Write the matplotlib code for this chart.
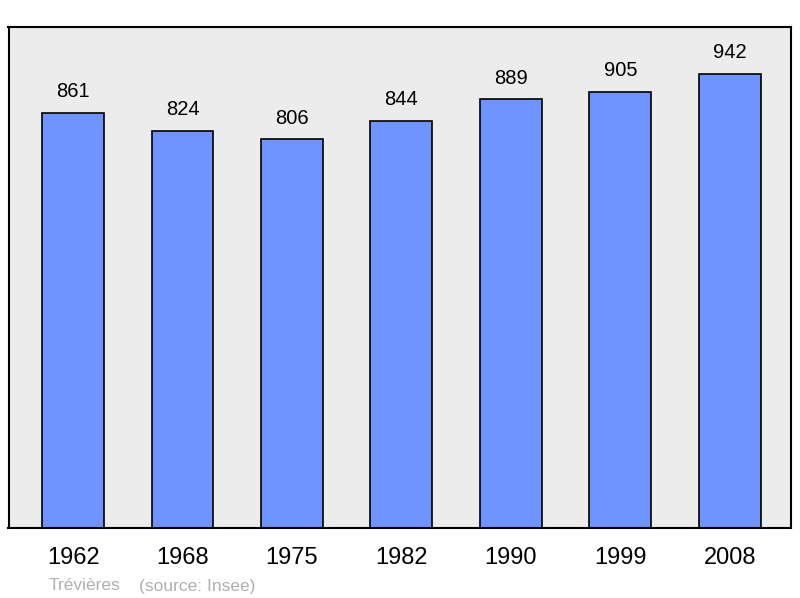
import matplotlib
matplotlib.use("Agg")
import matplotlib.pyplot as plt

years = ["1962", "1968", "1975", "1982", "1990", "1999", "2008"]
population = [861, 824, 806, 844, 889, 905, 942]

plt.rcParams['font.family'] = ['Liberation Sans', 'DejaVu Sans']

fig = plt.figure(figsize=(8, 5.98), dpi=100)
W, H = 800, 598
ax = fig.add_axes([8.5 / W, (H - 528) / H, 782.5 / W, 501 / H])
ax.set_facecolor('#ececec')

x = list(range(len(years)))
bars = ax.bar(x, population, width=0.566, color='#7094ff', edgecolor='black', linewidth=1.2, zorder=2)
for xi, v in zip(x, population):
    ax.annotate(str(v), (xi, v), xytext=(0, 8.5), textcoords='offset points',
                ha='center', va='bottom', fontsize=14.5, color='black')

ax.set_xlim(-0.59, 6.56)
ax.set_ylim(0, 1039)
ax.set_yticks([])
ax.set_xticks(x)
ax.set_xticklabels(years, fontsize=17)
ax.tick_params(axis='x', length=0, pad=13.5)
for s in ax.spines.values():
    s.set_linewidth(1.5)
    s.set_color('black')

fig.text(49 / W, 1 - 586 / H, "Trévières", color='#b0b0b0', fontsize=12.5, va='center', ha='left')
fig.text(139 / W, 1 - 586 / H, "(source: Insee)", color='#b0b0b0', fontsize=12.5, va='center', ha='left')

fig.savefig('out.png', dpi=100)
